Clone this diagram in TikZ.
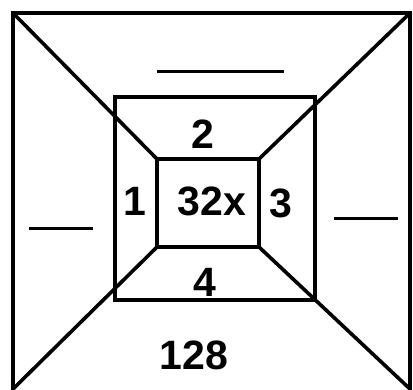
\documentclass[tikz,border=0pt]{standalone}
\usepackage{fontspec}
\setmainfont{Liberation Sans}
\begin{document}
\begin{tikzpicture}[x=1pt,y=-1pt,
  frame/.style={line width=3.6pt,line join=miter},
  blank/.style={line width=3pt},
  lbl/.style={inner sep=0pt,font=\fontsize{41}{41}\selectfont\bfseries}]
\useasboundingbox (0,0) rectangle (413,389);
\clip (0,0) rectangle (413,389);
% outer square corners
\coordinate (o1) at (13,13);
\coordinate (o2) at (410,13);
\coordinate (o3) at (410,392);
\coordinate (o4) at (13,392);
\coordinate (d3) at (410,389);
\coordinate (d4) at (13,389);
% middle rectangle
\coordinate (m1) at (115,97);
\coordinate (m3) at (315,300);
% inner rectangle corners
\coordinate (i1) at (157,159);
\coordinate (i2) at (259,159);
\coordinate (i3) at (259,247);
\coordinate (i4) at (157,247);
\draw[frame] (o1) -- (o2) -- (o3) -- (o4) -- cycle;
\draw[frame] (m1) rectangle (m3);
\draw[frame] (i1) -- (i2) -- (i3) -- (i4) -- cycle;
\draw[frame] (o1) -- (i1);
\draw[frame] (o2) -- (i2);
\draw[frame] (d3) -- (i3);
\draw[frame] (d4) -- (i4);
% answer blanks
\coordinate (bt1) at (157,71); \coordinate (bt2) at (284,71);
\coordinate (bl1) at (29,228); \coordinate (bl2) at (93,228);
\coordinate (br1) at (334,218); \coordinate (br2) at (398,218);
\draw[blank] (bt1) -- (bt2);
\draw[blank] (bl1) -- (bl2);
\draw[blank] (br1) -- (br2);
% labels
\node[lbl] (t2) at (203,134) {2};
\node[lbl] (t1) at (135,201) {1};
\node[lbl] (t32) at (212,201) {32x};
\node[lbl] (t3) at (281,203) {3};
\node[lbl] (t4) at (205,282) {4};
\node[lbl] (t128) at (194,355) {128};
\end{tikzpicture}
\end{document}
